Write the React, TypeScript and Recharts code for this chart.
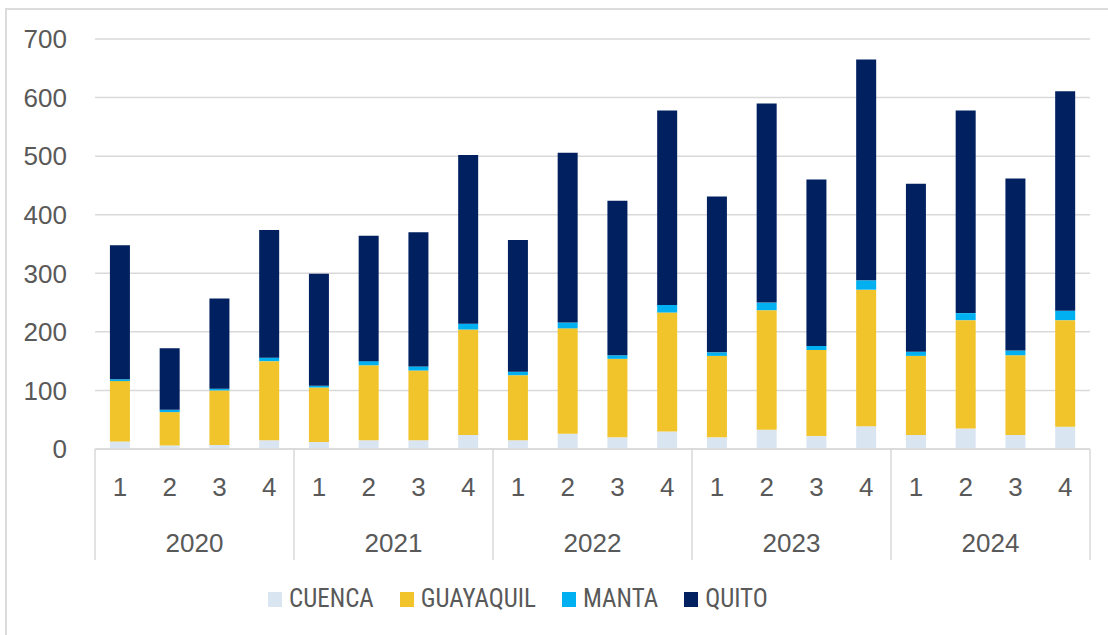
import React from 'react';
import { BarChart, Bar, XAxis, YAxis, CartesianGrid, Legend } from 'recharts';

const years = ['2020', '2021', '2022', '2023', '2024'];
const quarters = ['1', '2', '3', '4'];
const cuenca = [13, 6, 7, 15, 12, 15, 15, 24, 15, 26, 20, 30, 20, 33, 22, 39, 24, 35, 24, 38];
const guayaquil = [103, 57, 93, 135, 93, 128, 119, 180, 111, 180, 134, 203, 139, 204, 147, 233, 135, 185, 136, 182];
const manta = [3, 4, 3, 6, 3, 7, 7, 10, 6, 10, 6, 13, 6, 13, 7, 16, 7, 12, 8, 16];
const quito = [229, 105, 154, 218, 191, 214, 229, 288, 225, 290, 264, 332, 266, 340, 284, 377, 287, 346, 294, 375];
const yTicks = [0, 100, 200, 300, 400, 500, 600, 700];

const series = [
  { key: 'CUENCA', values: cuenca, color: '#dae5f2' },
  { key: 'GUAYAQUIL', values: guayaquil, color: '#f1c42b' },
  { key: 'MANTA', values: manta, color: '#00b0f0' },
  { key: 'QUITO', values: quito, color: '#002060' },
];

const data: any[] = [];
years.forEach((y, yi) => {
  quarters.forEach((q, qi) => {
    const i = yi * 4 + qi;
    const row: any = { id: `${y}-${q}`, q, year: y };
    series.forEach((s) => {
      row[s.key] = s.values[i];
    });
    data.push(row);
  });
});

const textColor = '#595959';
const gridColor = '#d9d9d9';
const tickFont = "'Liberation Sans', Arial, sans-serif";
const legendFont = "'Liberation Sans Narrow', 'Roboto Condensed', Roboto, sans-serif";

const YearTick = (props: any) => {
  const { x, y, payload, index, visibleTicksCount, width } = props;
  const half = width / visibleTicksCount / 2;
  const top = y - 85;
  const bottom = y + 26;
  return (
    <g>
      <line x1={x - half} x2={x - half} y1={top} y2={bottom} stroke={gridColor} strokeWidth={1.5} />
      {index === visibleTicksCount - 1 && (
        <line x1={x + half} x2={x + half} y1={top} y2={bottom} stroke={gridColor} strokeWidth={1.5} />
      )}
      <text x={x} y={y} dy="0.71em" textAnchor="middle" fill={textColor} fontSize={26} fontFamily={tickFont}>
        {payload.value}
      </text>
    </g>
  );
};

const LegendContent = () => (
  <div style={{ display: 'flex', alignItems: 'center', height: 40, marginLeft: 268 }}>
    {series.map((s, i) => (
      <div key={s.key} style={{ display: 'flex', alignItems: 'center', marginRight: i < series.length - 1 ? 26 : 0 }}>
        <div style={{ width: 14, height: 15, background: s.color, marginRight: 7 }} />
        <span style={{ fontFamily: legendFont, fontSize: 25, color: textColor, lineHeight: '40px' }}>{s.key}</span>
      </div>
    ))}
  </div>
);

export default function App() {
  return (
    <div style={{ position: 'absolute', left: 0, top: 0, width: 1108, height: 635, background: '#fff', overflow: 'hidden' }}>
      <div
        style={{
          position: 'absolute',
          left: 5,
          top: 8,
          width: 1200,
          height: 700,
          borderLeft: '2px solid #dcdcdc',
          borderTop: '2px solid #dcdcdc',
        }}
      />
      <div style={{ position: 'absolute', left: 0, top: 0 }}>
        <BarChart
          width={1108}
          height={635}
          data={data}
          margin={{ top: 39, right: 18, bottom: 16, left: 0 }}
          barCategoryGap="30%"
        >
          <CartesianGrid vertical={false} stroke={gridColor} strokeWidth={1.5} xAxisId="q" />
          <XAxis
            xAxisId="q"
            dataKey="id"
            height={66}
            interval={0}
            axisLine={{ stroke: gridColor, strokeWidth: 1.5 }}
            tickLine={false}
            tickSize={0}
            tickMargin={29}
            tickFormatter={(v: string) => v.split('-')[1]}
            tick={{ fill: textColor, fontSize: 26, fontFamily: tickFont }}
          />
          <XAxis
            xAxisId="year"
            dataKey="year"
            allowDuplicatedCategory={false}
            height={64}
            interval={0}
            axisLine={false}
            tickLine={false}
            tickSize={0}
            tickMargin={19}
            tick={<YearTick />}
          />
          <YAxis
            width={95}
            domain={[0, 700]}
            ticks={yTicks}
            interval={0}
            axisLine={false}
            tickLine={false}
            tickSize={0}
            tickMargin={28}
            tick={{ fill: textColor, fontSize: 26, fontFamily: tickFont }}
          />
          <Legend
            verticalAlign="bottom"
            content={<LegendContent />}
            wrapperStyle={{ left: 0, width: 1108, height: 40 }}
          />
          {series.map((s) => (
            <Bar key={s.key} dataKey={s.key} stackId="a" fill={s.color} xAxisId="q" isAnimationActive={false} />
          ))}
        </BarChart>
      </div>
    </div>
  );
}
